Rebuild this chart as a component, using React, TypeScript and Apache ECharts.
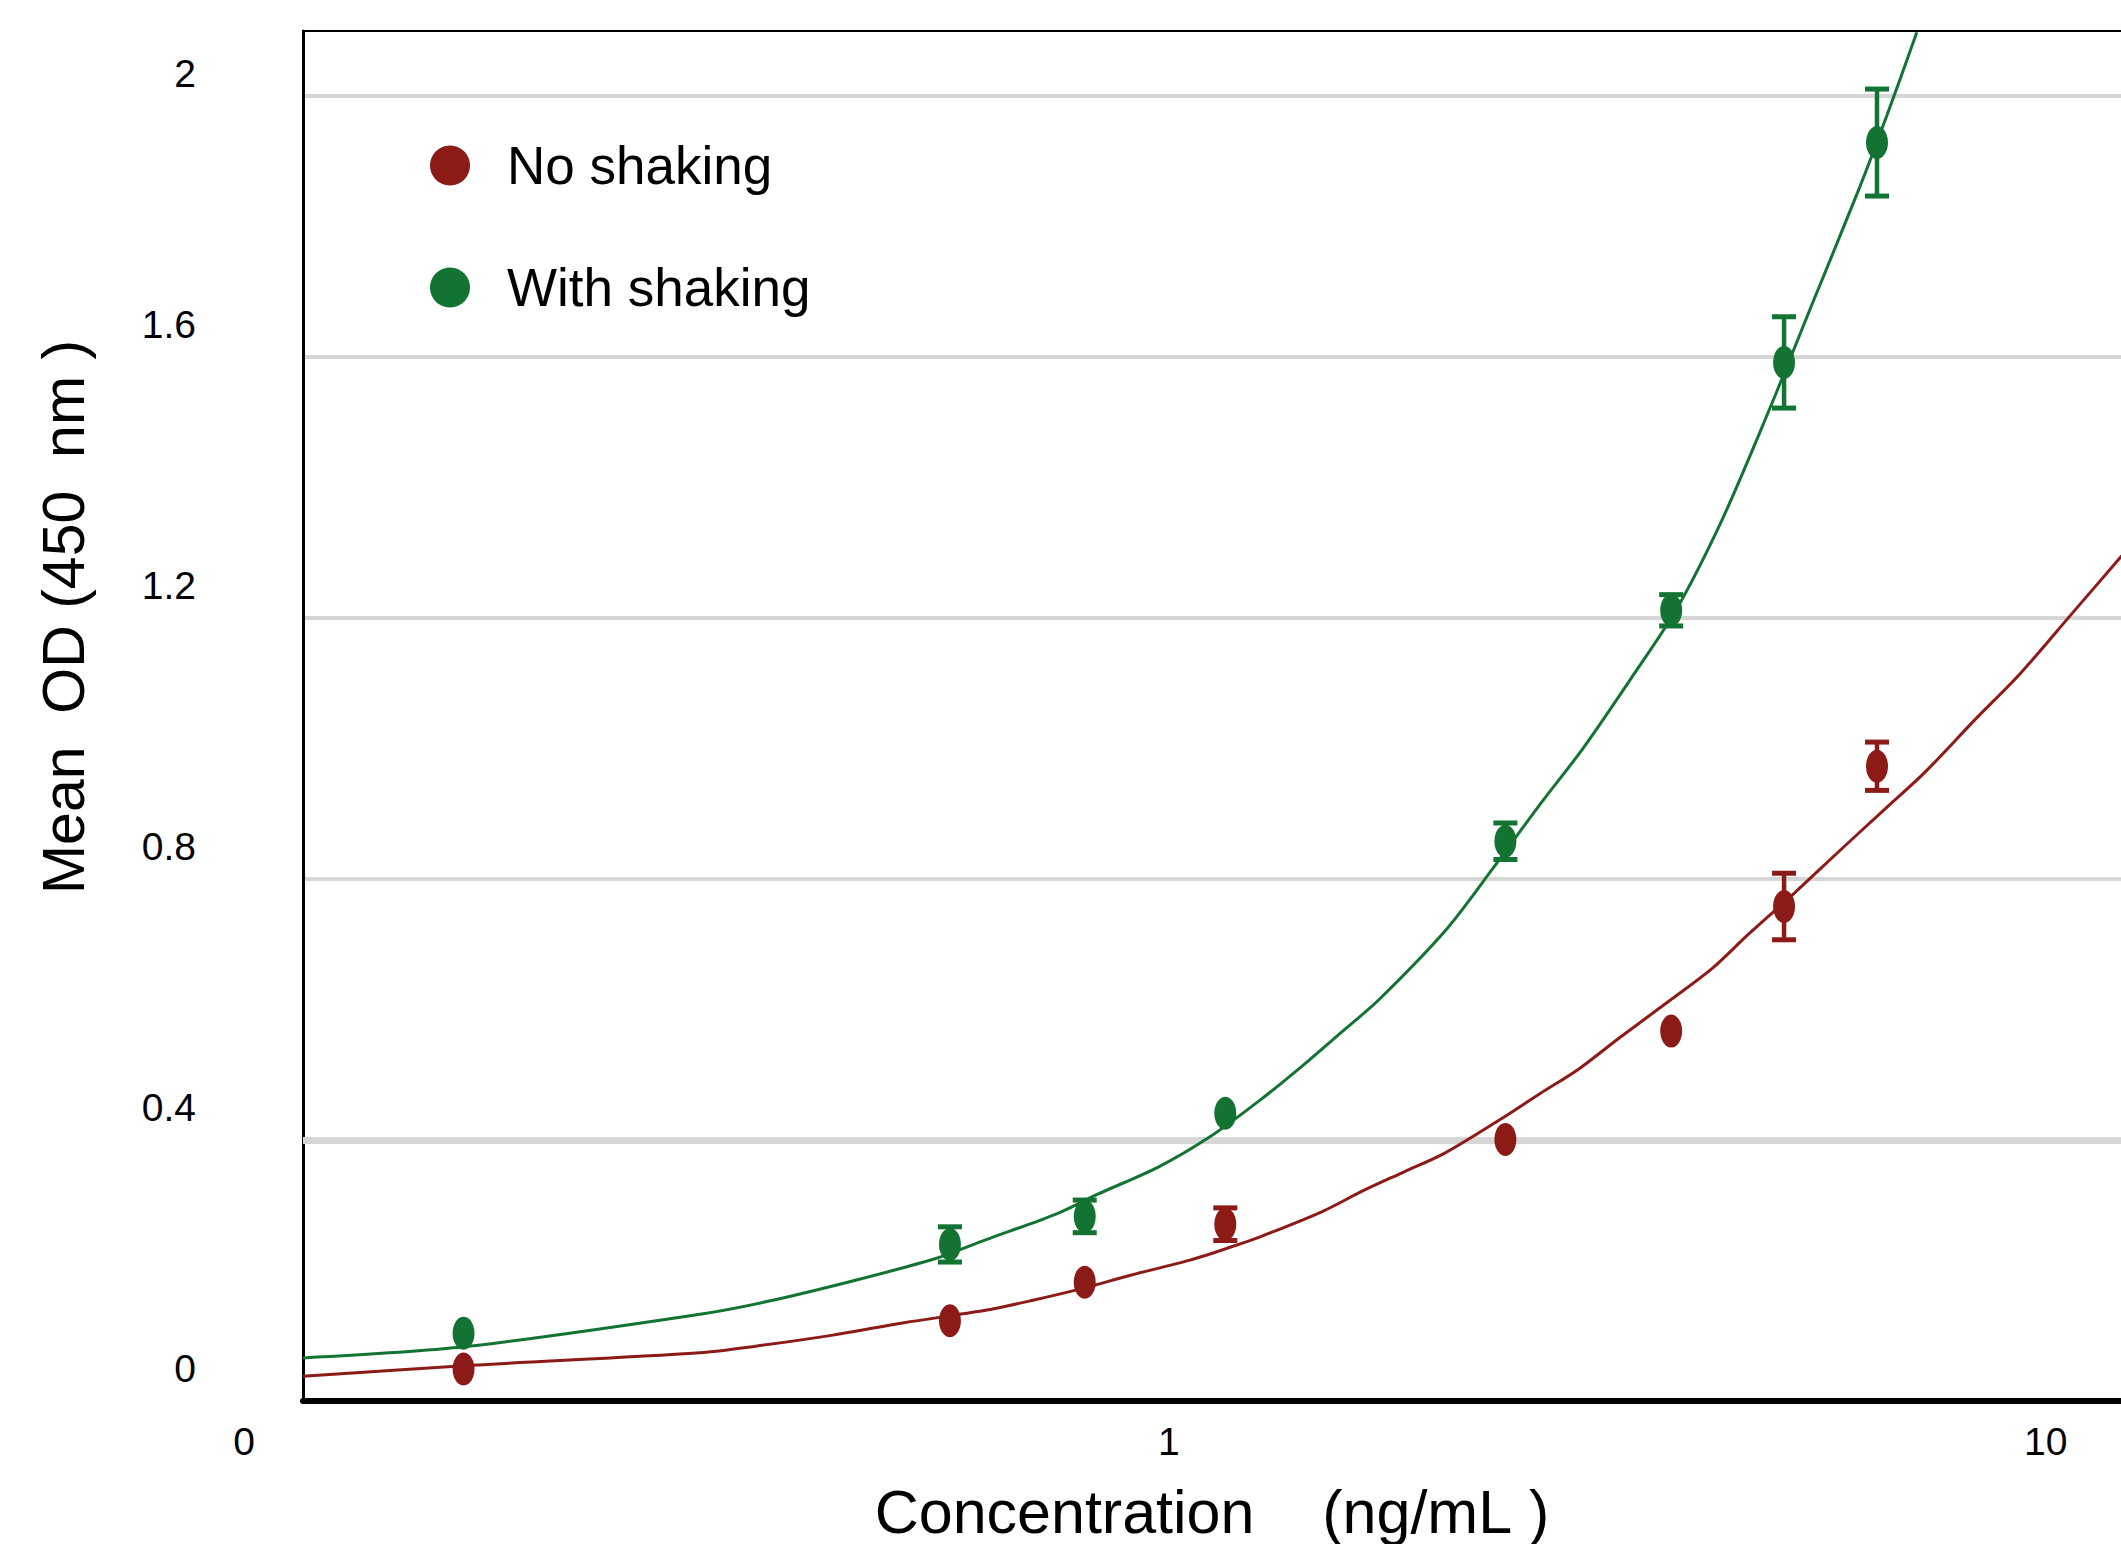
import React, { useEffect, useRef } from "react";
import * as echarts from "echarts";

// ---- data ----
const concentrations = [0.157, 0.563, 0.802, 1.16, 2.42, 3.74, 5.03, 6.42];
const noShakingOD = [0.049, 0.123, 0.182, 0.271, 0.401, 0.567, 0.758, 0.973];
const noShakingErr = [0, 0, 0, 0.025, 0, 0, 0.051, 0.037];
const withShakingOD = [0.104, 0.24, 0.283, 0.441, 0.858, 1.212, 1.592, 1.929];
const withShakingErr = [0, 0.027, 0.025, 0, 0.028, 0.024, 0.07, 0.082];

// fitted curves
const greenFitX = [0.103, 0.157, 0.292, 0.347, 0.436, 0.541, 0.618, 0.745, 0.83, 0.974, 1.114, 1.273, 1.418, 1.579, 1.736, 2.07, 2.335, 2.635, 2.973, 3.356, 3.786, 4.272, 4.82, 5.44, 6.137, 6.587, 7.128];
const greenFitY = [0.066, 0.083, 0.133, 0.152, 0.184, 0.218, 0.247, 0.287, 0.317, 0.359, 0.405, 0.462, 0.513, 0.567, 0.615, 0.722, 0.814, 0.91, 1.002, 1.105, 1.212, 1.35, 1.514, 1.688, 1.861, 1.97, 2.098];
const redFitX = [0.103, 0.157, 0.292, 0.338, 0.414, 0.499, 0.618, 0.698, 0.8, 0.9, 1.057, 1.177, 1.273, 1.494, 1.664, 1.853, 2.064, 2.384, 2.649, 2.935, 3.26, 3.736, 4.172, 4.585, 5.172, 5.837, 6.587, 7.259, 8.299, 9.365, 10.68, 12.18, 12.84];
const redFitY = [0.038, 0.054, 0.074, 0.084, 0.101, 0.12, 0.139, 0.154, 0.173, 0.192, 0.216, 0.236, 0.252, 0.29, 0.322, 0.351, 0.38, 0.431, 0.471, 0.509, 0.556, 0.615, 0.664, 0.716, 0.779, 0.845, 0.91, 0.962, 1.044, 1.116, 1.205, 1.294, 1.33];

const seriesNames = ["No shaking", "With shaking"];
const yTickLabels = ["0", "0.4", "0.8", "1.2", "1.6", "2"];
const xTitle = "Concentration\u00a0\u00a0\u00a0\u00a0(ng/mL\u00a0)";
const yTitle = "Mean\u00a0\u00a0OD\u00a0(450\u00a0\u00a0nm\u00a0)";

const RED = "#8c1b18";
const GREEN = "#137333";
const FONT = "Liberation Sans";

function errorBarSeries(name: string, od: number[], err: number[], color: string) {
  return {
    type: "custom",
    name: name + " error",
    z: 3,
    silent: true,
    data: concentrations.map((c, i) => [c, od[i], err[i]]),
    encode: { x: 0, y: 1 },
    renderItem: (params: any, api: any) => {
      const x = api.value(0);
      const y = api.value(1);
      const e = api.value(2);
      if (!(e > 0)) return { type: "group", children: [] };
      const top = api.coord([x, y + e]);
      const bot = api.coord([x, y - e]);
      const hw = 12;
      const style = { stroke: color, lineWidth: 4.5 };
      return {
        type: "group",
        children: [
          { type: "line", shape: { x1: top[0], y1: top[1], x2: bot[0], y2: bot[1] }, style },
          { type: "line", shape: { x1: top[0] - hw, y1: top[1], x2: top[0] + hw, y2: top[1] }, style: { stroke: color, lineWidth: 5 } },
          { type: "line", shape: { x1: bot[0] - hw, y1: bot[1], x2: bot[0] + hw, y2: bot[1] }, style: { stroke: color, lineWidth: 5 } },
        ],
      };
    },
  };
}

export default function App() {
  const ref = useRef<HTMLDivElement>(null);

  useEffect(() => {
    if (!ref.current) return;
    const chart = echarts.init(ref.current, undefined, { renderer: "svg" });
    const tickFont = { fontFamily: FONT, fontSize: 39, lineHeight: 39, color: "#000" };
    const option: any = {
      animation: false,
      backgroundColor: "#ffffff",
      grid: {
        left: 303,
        top: 31,
        width: 1838,
        bottom: 143,
        outerBoundsMode: "none",
        containLabel: false,
        show: true,
        borderColor: "#000",
        borderWidth: 2,
        z: 0,
      },
      legend: {
        data: seriesNames.map((n) => ({ name: n, icon: "circle" })),
        orient: "vertical",
        left: 425,
        top: 134,
        itemWidth: 104,
        itemHeight: 40,
        itemGap: 69,
        selectedMode: false,
        textStyle: { fontFamily: FONT, fontSize: 53, lineHeight: 53, color: "#000" },
      },
      xAxis: {
        type: "log",
        logBase: 10,
        min: 0.103,
        max: 12.84,
        offset: 3,
        name: xTitle,
        nameLocation: "middle",
        nameGap: 77,
        nameTextStyle: { fontFamily: FONT, fontSize: 61, lineHeight: 61, color: "#000", padding: [0, 20, 0, 0] },
        axisLine: { show: true, lineStyle: { color: "#000", width: 6 } },
        axisTick: { show: false },
        splitLine: { show: false },
        minorSplitLine: { show: false },
        axisLabel: {
          margin: 18,
          ...tickFont,
          formatter: (v: number) => (v < 0.5 ? "{z|0}" : v > 11 ? "" : String(Math.round(v))),
          rich: { z: { padding: [0, 118, 0, 0], ...tickFont } },
        },
      },
      yAxis: {
        type: "value",
        min: 0,
        max: 2.1,
        interval: 0.4,
        name: yTitle,
        nameLocation: "middle",
        nameRotate: 90,
        nameGap: 210,
        nameTextStyle: { fontFamily: FONT, fontSize: 59, lineHeight: 59, color: "#000", padding: [0, 0, 0, 198] },
        axisLine: { show: true, lineStyle: { color: "#000", width: 3 } },
        axisTick: { show: false },
        splitLine: { show: true, showMaxLine: false, showMinLine: false, lineStyle: { color: "#d6d6d6", width: 4 } },
        axisLabel: {
          margin: 107,
          ...tickFont,
          formatter: (v: number) => {
            if (v > 2.05) return "";
            const idx = Math.round(v / 0.4);
            const t = yTickLabels[idx] ?? "";
            return idx === yTickLabels.length - 1 ? `{b|${t}}` : `{a|${t}}`;
          },
          rich: {
            a: { padding: [0, 0, 66, 0], ...tickFont },
            b: { padding: [0, 0, 46, 0], ...tickFont },
          },
        },
      },
      series: [
        {
          type: "line",
          name: "grid-0.4",
          data: [],
          silent: true,
          markLine: {
            silent: true,
            z: 1,
            symbol: "none",
            label: { show: false },
            lineStyle: { color: "#d6d6d6", width: 7, type: "solid" },
            emphasis: { disabled: true },
            data: [{ yAxis: 0.4 }],
          },
        },
        {
          type: "line",
          name: "No shaking fit",
          data: redFitX.map((x, i) => [x, redFitY[i]]),
          showSymbol: false,
          smooth: 0.3,
          clip: true,
          silent: true,
          z: 2,
          lineStyle: { color: RED, width: 3 },
        },
        {
          type: "line",
          name: "With shaking fit",
          data: greenFitX.map((x, i) => [x, greenFitY[i]]),
          showSymbol: false,
          smooth: 0.3,
          clip: true,
          silent: true,
          z: 2,
          lineStyle: { color: GREEN, width: 3 },
        },
        errorBarSeries("No shaking", noShakingOD, noShakingErr, RED),
        errorBarSeries("With shaking", withShakingOD, withShakingErr, GREEN),
        {
          type: "scatter",
          name: "No shaking",
          data: concentrations.map((c, i) => [c, noShakingOD[i]]),
          symbol: "circle",
          symbolSize: [22, 33],
          itemStyle: { color: RED, opacity: 1 },
          z: 4,
        },
        {
          type: "scatter",
          name: "With shaking",
          data: concentrations.map((c, i) => [c, withShakingOD[i]]),
          symbol: "circle",
          symbolSize: [22, 33],
          itemStyle: { color: GREEN, opacity: 1 },
          z: 4,
        },
      ],
    };
    chart.setOption(option);
    return () => chart.dispose();
  }, []);

  return (
    <div
      ref={ref}
      style={{ position: "absolute", left: 0, top: 0, width: 2121, height: 1544, background: "#fff" }}
    />
  );
}
